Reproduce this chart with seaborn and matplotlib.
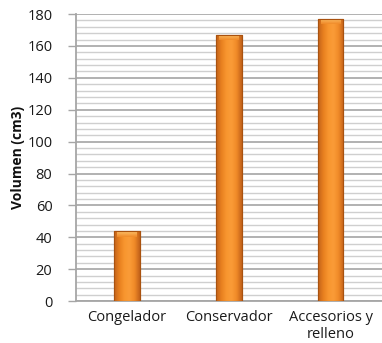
import numpy as np
import pandas as pd
import matplotlib
matplotlib.use("Agg")
import matplotlib.pyplot as plt
import seaborn as sns
from matplotlib.colors import LinearSegmentedColormap
from matplotlib.ticker import MultipleLocator

categories = ["Congelador", "Conservador", "Accesorios y\nrelleno"]
volumes = [44, 167, 177]
y_ticks = [0, 20, 40, 60, 80, 100, 120, 140, 160, 180]

df = pd.DataFrame({"categoria": categories, "volumen": volumes})

sns.set_style("white")
plt.rcParams["font.family"] = ["Open Sans", "DejaVu Sans"]

fig = plt.figure(figsize=(3.82, 3.43), dpi=100)
ax = fig.add_axes([0.199, 0.122, 0.80, 0.837])

sns.barplot(data=df, x="categoria", y="volumen", ax=ax, width=0.25,
            color="#F7922C", edgecolor="#B45A14", linewidth=0.8, zorder=3)

ax.set_ylim(0, 180)
ax.set_xlim(-0.5, 2.5)
ax.set_yticks(y_ticks)
ax.yaxis.set_minor_locator(MultipleLocator(4))
ax.grid(axis="y", which="major", color="#ababab", linewidth=1.3, zorder=0)
ax.grid(axis="y", which="minor", color="#cfcfcf", linewidth=1.0, zorder=0)
ax.set_axisbelow(True)

# shaded, bevelled fill for each bar
cmap = LinearSegmentedColormap.from_list(
    "naranja", ["#C2621A", "#E8801F", "#F8962F", "#FA9C38", "#F08A28", "#C2621A"])
prof = np.linspace(0, 1, 64)[None, :]
for patch in ax.patches:
    x0, y0 = patch.get_x(), patch.get_y()
    w, h = patch.get_width(), patch.get_height()
    img = ax.imshow(np.repeat(prof, 2, axis=0), cmap=cmap, aspect="auto",
                    extent=[x0, x0 + w, y0, y0 + h], zorder=4, interpolation="bicubic")
    img.set_clip_path(patch)
    cap = 3.5
    top = ax.imshow(np.linspace(1, 0, 32)[:, None] * np.ones((1, 8)),
                    cmap=LinearSegmentedColormap.from_list("cap", ["#F08A28", "#FFC873"]),
                    aspect="auto", extent=[x0 + w * 0.12, x0 + w * 0.88, y0 + h - cap, y0 + h],
                    zorder=5, interpolation="bicubic", alpha=0.9)
    top.set_clip_path(patch)
    edge = plt.Rectangle((x0, y0), w, h, fill=False, edgecolor="#A9520F",
                         linewidth=0.8, zorder=6)
    ax.add_patch(edge)

ax.set_ylim(0, 180)
ax.set_xlim(-0.5, 2.5)

for side in ["top", "right"]:
    ax.spines[side].set_visible(False)
ax.spines["left"].set_color("#a6a6a6")
ax.spines["left"].set_linewidth(1.3)
ax.spines["bottom"].set_color("#a6a6a6")
ax.spines["bottom"].set_linewidth(1.3)

ax.tick_params(axis="y", which="major", left=True, length=6, width=1.0,
               color="#a6a6a6", labelsize=10.5, labelcolor="#1a1a1a", pad=11)
ax.tick_params(axis="y", which="minor", left=False)
ax.tick_params(axis="x", bottom=False, labelsize=10.5, labelcolor="#1a1a1a", pad=3)
for lbl in ax.get_xticklabels():
    lbl.set_linespacing(1.15)

ax.set_xlabel("")
ax.set_ylabel("Volumen (cm3)", fontsize=10, fontweight="bold", color="#111111", labelpad=2)

fig.savefig("out.png", dpi=100)
